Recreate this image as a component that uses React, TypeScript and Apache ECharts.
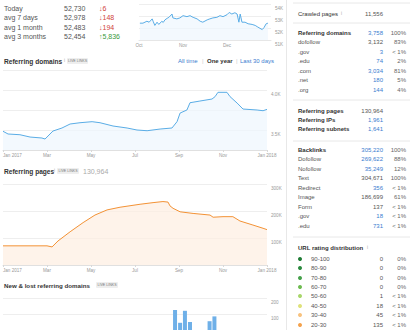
import React, { useEffect, useRef } from "react";
import * as echarts from "echarts";

// ---- summary table (top left)
const summaryLabels = ["Today", "avg 7 days", "avg 1 month", "avg 3 months"];
const summaryValues = ["52,730", "52,978", "52,483", "52,454"];
const summaryDeltas = ["6", "148", "194", "5,836"];
const summaryUp = [false, false, false, true];

// ---- small 3-month chart (months since Oct 1)
const topX = [0.02, 0.09, 0.18, 0.23, 0.3, 0.32, 0.36, 0.41, 0.45, 0.52, 0.55, 0.59, 0.64, 0.68, 0.75, 0.77, 0.86, 0.93, 1.0, 1.09, 1.16, 1.23, 1.32, 1.39, 1.45, 1.55, 1.61, 1.68, 1.77, 1.84, 1.91, 2.0, 2.05, 2.11, 2.18, 2.23, 2.27, 2.3, 2.34, 2.41, 2.48, 2.57, 2.64, 2.7, 2.8, 2.84, 2.89, 2.93];
const topY = [52403, 52403, 52565, 52484, 52760, 52565, 52216, 52484, 52297, 52565, 52460, 52679, 52808, 52889, 53165, 52841, 52760, 52841, 53027, 52946, 53027, 52889, 52760, 52565, 52484, 52679, 52760, 52841, 52889, 53027, 52946, 53108, 53295, 53165, 53271, 53165, 52484, 53165, 52484, 52484, 52354, 52297, 52216, 52079, 51868, 52030, 52354, 52403];
const topMonthLabels = ["Oct", "Nov", "Dec"];

// ---- year charts (months since Jan 2017)
const yearLabels = ["Jan 2017", "Mar", "May", "Jul", "Sep", "Nov", "Jan 2018"];
const domX = [0, 0.23, 0.77, 1.23, 1.77, 1.91, 2.27, 2.68, 3.05, 3.5, 4.05, 4.41, 5.0, 5.64, 6.09, 6.55, 7.14, 7.68, 7.91, 8.05, 8.36, 8.5, 8.95, 9.5, 9.64, 9.77, 10.18, 10.32, 10.64, 10.91, 11.55, 11.82, 12.0];
const domY = [3484, 3450, 3441, 3412, 3400, 3387, 3487, 3525, 3575, 3591, 3604, 3591, 3550, 3525, 3500, 3491, 3512, 3525, 3604, 3712, 3750, 3841, 3862, 3887, 3917, 3971, 3971, 3917, 3837, 3762, 3750, 3741, 3758];
const pagesX = [0, 2.0, 2.23, 2.5, 3.05, 3.64, 4.18, 4.73, 5.32, 6.23, 6.82, 7.27, 7.5, 7.59, 7.73, 8.05, 8.64, 9.41, 9.55, 10.0, 10.45, 10.77, 11.36, 11.82, 12.0];
const pagesY = [71000, 71000, 67000, 89000, 123000, 157000, 185000, 204000, 214000, 225000, 231000, 235000, 233000, 219000, 210000, 197000, 191000, 185000, 177000, 179000, 179000, 163000, 148000, 136000, 131000];
const newLostX = [7.82, 8.05, 8.27, 8.5, 9.39, 9.61];
const newLostY = [125, 45, 120, 50, 55, 85];

// ---- right panel
const crawled = "11,556";
const domRows = ["Referring domains", "dofollow", ".gov", ".edu", ".com", ".net", ".org"];
const domVals = ["3,758", "3,132", "3", "74", "3,034", "180", "144"];
const domPct = ["100%", "83%", "< 1%", "2%", "81%", "5%", "4%"];
const domLink = [true, false, true, true, true, true, true];
const refRows = ["Referring pages", "Referring IPs", "Referring subnets"];
const refVals = ["130,964", "1,961", "1,641"];
const refLink = [false, true, true];
const blRows = ["Backlinks", "Dofollow", "Nofollow", "Text", "Redirect", "Image", "Form", ".gov", ".edu"];
const blVals = ["305,220", "269,622", "35,249", "304,671", "356", "186,699", "137", "18", "731"];
const blPct = ["100%", "88%", "12%", "100%", "< 1%", "61%", "< 1%", "< 1%", "< 1%"];
const blLink = [true, true, true, false, true, false, false, true, true];
const urRows = ["90-100", "80-90", "70-80", "60-70", "50-60", "40-50", "30-40", "20-30"];
const urVals = ["0", "0", "0", "0", "1", "18", "45", "135"];
const urPct = ["0%", "0%", "0%", "0%", "< 1%", "< 1%", "< 1%", "< 1%"];
const urColors = ["#1e7b34", "#2b8a3e", "#45a14a", "#6dbb4f", "#a8d66a", "#dfe27a", "#f8c27e", "#f4a24c"];

const FONT = "Liberation Sans, Arial, sans-serif";
const BLUE = "#3a7dcf";

function txt(x: number, y: number, text: string, o: any = {}) {
  return {
    type: "text",
    x,
    y,
    silent: true,
    style: {
      text,
      fill: o.fill || "#555",
      fontSize: o.size || 6,
      fontWeight: o.bold ? "bold" : "normal",
      fontFamily: FONT,
      align: o.align || "left",
      verticalAlign: "middle",
    },
  };
}

function badge(x: number, y: number, w: number) {
  return [
    { type: "rect", silent: true, shape: { x, y: y - 3, width: w, height: 6, r: 1 }, style: { fill: "#eeeeee" } },
    txt(x + w / 2, y, "LIVE LINKS", { size: 3.6, fill: "#777", align: "center" }),
  ];
}

function sep(y: number) {
  return { type: "line", silent: true, shape: { x1: 293, y1: y, x2: 410, y2: y }, style: { stroke: "#e8e8e8", lineWidth: 1 } };
}

export default function App() {
  const ref = useRef<HTMLDivElement>(null);
  useEffect(() => {
    if (!ref.current) return;
    const chart = echarts.init(ref.current, null, { renderer: "svg" });
    const g: any[] = [];
    // separator
    g.push({ type: "line", silent: true, shape: { x1: 286.5, y1: 0, x2: 286.5, y2: 330 }, style: { stroke: "#e8e8e8", lineWidth: 1 } });
    // summary table
    const sy = [8, 17.5, 27, 36.5];
    summaryLabels.forEach((l, i) => {
      g.push(txt(4, sy[i], l, { size: 7 }));
      g.push(txt(64, sy[i], summaryValues[i], { size: 7 }));
      g.push(txt(99, sy[i], (summaryUp[i] ? "\u2191" : "\u2193") + summaryDeltas[i], { size: 7, fill: summaryUp[i] ? "#3c9a3c" : "#d0433a" }));
    });
    // headers
    g.push(txt(4, 61, "Referring domains", { bold: true, size: 6.6, fill: "#333" }));
    g.push(txt(64, 60, "i", { size: 4.5, fill: "#aaa" }));
    g.push(...badge(67, 61, 21));
    g.push(txt(178, 61, "All time", { fill: BLUE }));
    g.push(txt(202, 61, "|", { fill: "#ccc" }));
    g.push(txt(207, 61, "One year", { fill: "#333", bold: true }));
    g.push(txt(236, 61, "|", { fill: "#ccc" }));
    g.push(txt(240, 61, "Last 30 days", { fill: BLUE }));
    g.push(txt(4, 171, "Referring pages", { bold: true, size: 6.6, fill: "#333" }));
    g.push(txt(54, 170, "i", { size: 4.5, fill: "#aaa" }));
    g.push(...badge(57, 171, 22));
    g.push(txt(83, 171, refVals[0], { size: 7, fill: "#aaa" }));
    g.push(txt(4, 285, "New & lost referring domains", { bold: true, size: 6.2, fill: "#333" }));
    g.push(...badge(96, 285, 22));

    // right panel
    g.push(sep(3));
    g.push(txt(298, 14, "Crawled pages", { fill: "#333" }));
    g.push(txt(341, 13, "i", { size: 4.5, fill: "#aaa" }));
    g.push(txt(383, 14, crawled, { align: "right", fill: "#555" }));
    g.push(sep(23));
    const dy = [33, 42, 52, 61, 71, 80, 90];
    domRows.forEach((l, i) => {
      g.push(txt(298, dy[i], l, { fill: i === 0 ? "#333" : "#555", bold: i === 0 }));
      g.push(txt(383, dy[i], domVals[i], { align: "right", fill: domLink[i] ? BLUE : "#555" }));
      g.push(txt(406, dy[i], domPct[i], { align: "right", fill: "#666" }));
    });
    g.push(sep(100));
    const ry = [111, 120, 129];
    refRows.forEach((l, i) => {
      g.push(txt(298, ry[i], l, { fill: "#333", bold: true }));
      g.push(txt(383, ry[i], refVals[i], { align: "right", fill: refLink[i] ? BLUE : "#555" }));
    });
    g.push(sep(141));
    const by = [150, 159, 169, 178, 188, 197, 207, 216, 226];
    blRows.forEach((l, i) => {
      g.push(txt(298, by[i], l, { fill: i === 0 ? "#333" : "#555", bold: i === 0 }));
      g.push(txt(383, by[i], blVals[i], { align: "right", fill: blLink[i] ? BLUE : "#555" }));
      g.push(txt(406, by[i], blPct[i], { align: "right", fill: "#666" }));
    });
    g.push(sep(237));
    g.push(txt(298, 248, "URL rating distribution", { fill: "#333", bold: true }));
    g.push(txt(367, 247, "i", { size: 4.5, fill: "#aaa" }));
    const uy = [259, 268, 278, 287, 296, 306, 315, 325];
    urRows.forEach((l, i) => {
      g.push({ type: "circle", silent: true, shape: { cx: 300, cy: uy[i], r: 2 }, style: { fill: urColors[i] } });
      g.push(txt(311, uy[i], l));
      g.push(txt(383, uy[i], urVals[i], { align: "right", fill: "#555" }));
      g.push(txt(406, uy[i], urPct[i], { align: "right", fill: "#666" }));
    });

    const yLab = (fmt: (v: number) => string) => ({
      show: true,
      color: "#999",
      fontSize: 4.6,
      fontFamily: FONT,
      margin: 4,
      verticalAlign: "top",
      padding: [2, 0, 0, 0],
      formatter: fmt,
    });
    const split = { show: true, lineStyle: { color: "#eeeeee", width: 1 } };
    const kfmt = (v: number) => (v === 0 ? "" : Math.round(v / 1000) + "K");

    const xYear = (gi: number, showLabels: boolean) => ({
      type: "value",
      gridIndex: gi,
      min: 0,
      max: 12,
      interval: 2,
      axisLine: { show: true, lineStyle: { color: "#e0e0e0" } },
      axisTick: { show: true, length: 2, lineStyle: { color: "#d8d8d8" } },
      splitLine: { show: false },
      axisLabel: {
        show: showLabels,
        color: "#999",
        fontSize: 4.6,
        fontFamily: FONT,
        margin: 3,
        showMinLabel: true,
        showMaxLabel: true,
        alignMinLabel: "left",
        formatter: (v: number) => yearLabels[Math.round(v / 2)] || "",
      },
    });

    const option: any = {
      animation: false,
      backgroundColor: "#ffffff",
      grid: [
        { left: 139, width: 132, top: 4, height: 36 },
        { left: 3, width: 264, top: 70, height: 80 },
        { left: 3, width: 264, top: 184, height: 81 },
        { left: 3, width: 264, top: 298, height: 40 },
      ],
      xAxis: [
        {
          type: "value",
          gridIndex: 0,
          min: 0,
          max: 3,
          interval: 1,
          axisLine: { show: true, lineStyle: { color: "#e6e6e6" } },
          axisTick: { show: false },
          splitLine: { show: false },
          axisLabel: {
            color: "#999",
            fontSize: 4.6,
            fontFamily: FONT,
            margin: 3,
            showMaxLabel: false,
            formatter: (v: number) => topMonthLabels[Math.round(v)] || "",
          },
        },
        xYear(1, true),
        xYear(2, true),
        xYear(3, false),
      ],
      yAxis: [
        {
          type: "value",
          gridIndex: 0,
          position: "right",
          min: 51000,
          max: 54000,
          interval: 1000,
          axisLine: { show: false },
          axisTick: { show: false },
          splitLine: split,
          axisLabel: yLab((v: number) => Math.round(v / 1000) + "K"),
        },
        {
          type: "value",
          gridIndex: 1,
          position: "right",
          min: 3250,
          max: 4250,
          interval: 250,
          axisLine: { show: false },
          axisTick: { show: false },
          splitLine: split,
          axisLabel: yLab((v: number) => (v % 500 === 0 ? (v / 1000).toFixed(1) + "K" : "")),
        },
        {
          type: "value",
          gridIndex: 2,
          position: "right",
          min: 0,
          max: 300000,
          interval: 100000,
          axisLine: { show: false },
          axisTick: { show: false },
          splitLine: split,
          axisLabel: yLab(kfmt),
        },
        {
          type: "value",
          gridIndex: 3,
          position: "right",
          min: 0,
          max: 200,
          interval: 100,
          axisLine: { show: false },
          axisTick: { show: false },
          splitLine: split,
          axisLabel: yLab((v: number) => (v === 0 ? "" : String(v))),
        },
      ],
      series: [
        {
          type: "line",
          xAxisIndex: 0,
          yAxisIndex: 0,
          data: topX.map((x, i) => [x, topY[i]]),
          showSymbol: false,
          lineStyle: { color: "#5aade6", width: 1 },
          areaStyle: { color: "#eef6fd", origin: "start" },
        },
        {
          type: "line",
          xAxisIndex: 1,
          yAxisIndex: 1,
          data: domX.map((x, i) => [x, domY[i]]),
          showSymbol: false,
          lineStyle: { color: "#5aade6", width: 1 },
          areaStyle: { color: "#eef6fd", origin: "start" },
        },
        {
          type: "line",
          xAxisIndex: 2,
          yAxisIndex: 2,
          data: pagesX.map((x, i) => [x, pagesY[i]]),
          showSymbol: false,
          lineStyle: { color: "#f39235", width: 1 },
          areaStyle: { color: "#fdeee1", origin: "start" },
        },
        {
          type: "bar",
          xAxisIndex: 3,
          yAxisIndex: 3,
          data: newLostX.map((x, i) => [x, newLostY[i]]),
          barWidth: 4,
          itemStyle: { color: "#6fb0e8" },
        },
      ],
      graphic: { elements: g },
    };
    chart.setOption(option);
    return () => chart.dispose();
  }, []);
  return <div ref={ref} style={{ position: "fixed", left: 0, top: 0, width: 410, height: 330 }} />;
}
